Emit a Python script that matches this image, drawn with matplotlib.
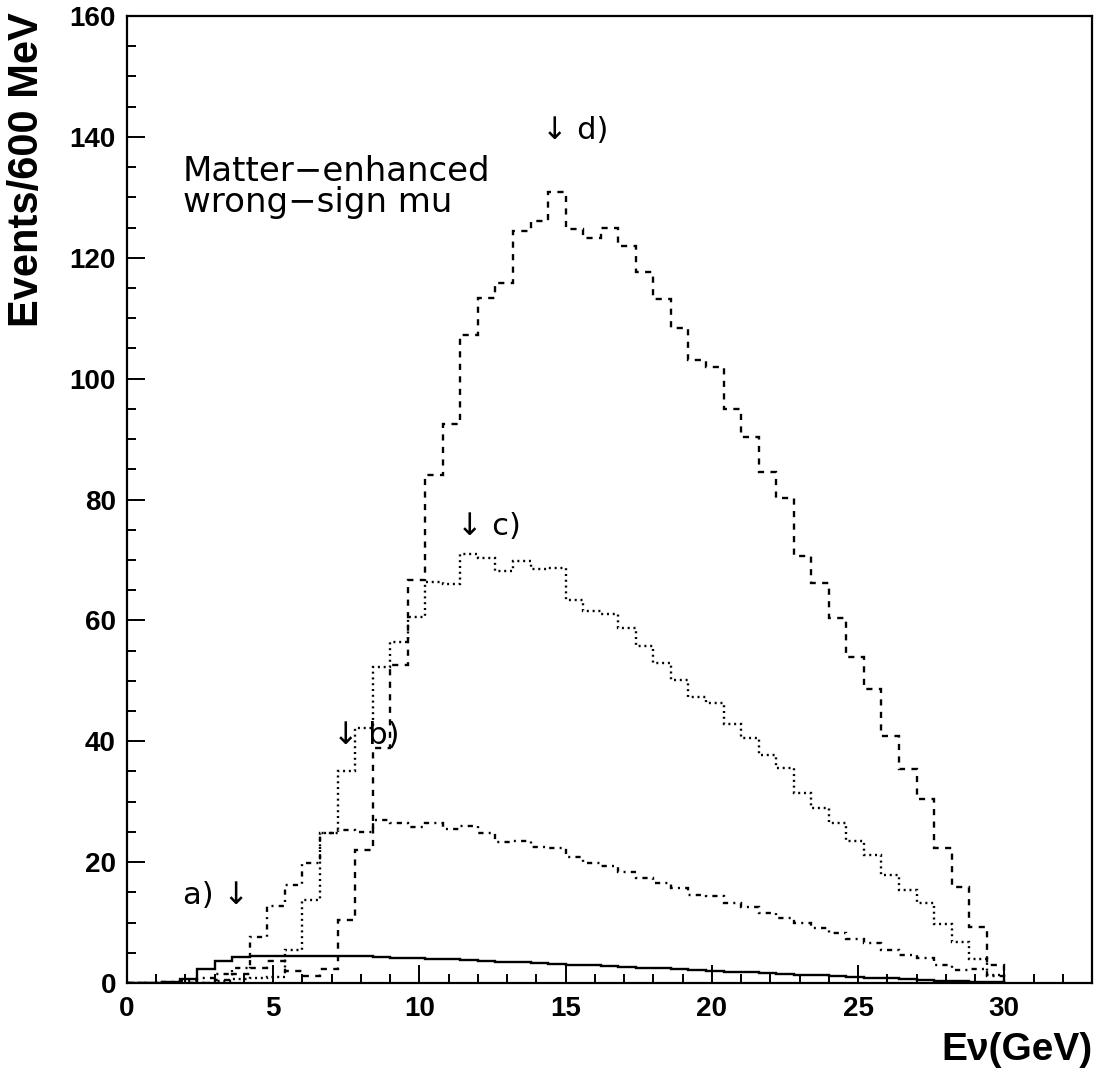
import numpy as np
import matplotlib
matplotlib.use('Agg')
import matplotlib.pyplot as plt
from matplotlib.ticker import MultipleLocator

# bin edges: 50 bins of 600 MeV from 0 to 30 GeV
bin_width = 0.6
n_bins = 50

# a) solid
hist_a = [0, 0, 0.2, 0.6, 2.3, 3.6, 4.3, 4.4, 4.4, 4.5,
          4.5, 4.5, 4.4, 4.4, 4.3, 4.2, 4.1, 4.0, 3.9, 3.75,
          3.6, 3.5, 3.4, 3.25, 3.1, 3.0, 2.9, 2.75, 2.6, 2.5,
          2.4, 2.25, 2.1, 1.95, 1.85, 1.75, 1.6, 1.5, 1.35, 1.25,
          1.1, 1.0, 0.85, 0.75, 0.6, 0.5, 0.4, 0.3, 0.2, 0.1]

# b) dash-dot
hist_b = [0, 0, 0.2, 0.4, 0.8, 1.5, 2.5, 7.6, 12.7, 16.2,
          19.8, 24.8, 25.3, 25.0, 27.0, 26.5, 25.8, 26.5, 25.5, 26.0,
          24.8, 23.4, 23.5, 22.5, 22.3, 20.9, 19.8, 19.4, 18.4, 17.4,
          16.5, 15.7, 14.6, 14.4, 13.2, 12.6, 11.6, 10.8, 9.9, 9.1,
          8.3, 7.3, 6.6, 5.5, 4.6, 4.1, 3.0, 2.2, 2.3, 1.2]

# c) dotted
hist_c = [0, 0, 0, 0, 0, 0.3, 0.6, 0.8, 1.0, 5.5,
          13.7, 24.8, 35.0, 42.2, 52.3, 56.5, 60.6, 66.4, 66.0, 70.9,
          70.3, 68.1, 69.9, 68.5, 68.6, 63.4, 61.5, 61.0, 58.8, 55.7,
          53.0, 50.2, 47.4, 46.4, 42.9, 40.6, 37.8, 35.6, 31.4, 29.0,
          26.5, 23.5, 21.2, 17.9, 15.4, 13.2, 9.8, 6.8, 3.9, 1.3]

# d) dashed
hist_d = [0, 0, 0, 0, 0, 0.5, 1.5, 2.5, 3.7, 2.0,
          1.2, 2.3, 10.4, 22.0, 38.9, 52.6, 66.7, 84.1, 92.5, 107.3,
          113.4, 115.9, 124.5, 126.1, 130.8, 124.7, 123.2, 125.0, 121.9, 117.6,
          113.2, 108.4, 103.1, 102.0, 95.0, 90.4, 84.6, 80.3, 70.7, 66.2,
          60.4, 54.0, 48.7, 40.8, 35.4, 30.5, 22.4, 15.9, 9.3, 3.0]

edges = np.arange(n_bins + 1) * bin_width

plt.rcParams['font.family'] = ['Liberation Sans', 'DejaVu Sans']

fig = plt.figure(figsize=(11.02, 10.72), dpi=100)
ax = fig.add_axes([127 / 1102, 1 - 983 / 1072, (1092 - 127) / 1102, (983 - 16) / 1072])

lw = 1.7
ax.stairs(hist_a, edges, baseline=0, color='black', lw=lw, linestyle='-')
ax.stairs(hist_b, edges, baseline=0, color='black', lw=lw,
          linestyle=(0, (2.2, 2.2, 0.85, 2.2)))
ax.stairs(hist_c, edges, baseline=0, color='black', lw=lw,
          linestyle=(0, (0.85, 1.6)))
ax.stairs(hist_d, edges, baseline=0, color='black', lw=lw,
          linestyle=(0, (2.6, 2.7)))

ax.set_xlim(0, 33)
ax.set_ylim(0, 160)

ax.xaxis.set_major_locator(MultipleLocator(5))
ax.xaxis.set_minor_locator(MultipleLocator(1))
ax.yaxis.set_major_locator(MultipleLocator(20))
ax.yaxis.set_minor_locator(MultipleLocator(5))

ax.tick_params(which='both', direction='in', top=False, right=False, width=1.4)
ax.tick_params(which='major', length=13, labelsize=20)
ax.tick_params(which='minor', length=6.5)
ax.tick_params(axis='x', pad=9)
ax.tick_params(axis='y', pad=8)
for lab in ax.get_xticklabels() + ax.get_yticklabels():
    lab.set_fontweight('bold')

for sp in ax.spines.values():
    sp.set_linewidth(1.6)

# axis titles (ROOT style: placed at the ends of the axes)
fig.text(27 / 1102, 1 - 12 / 1072, 'Events/600 MeV', rotation=90,
         ha='center', va='top', fontsize=30, fontweight='bold')
fig.text(1092 / 1102, 1 - 1068 / 1072, 'E\u03bd(GeV)',
         ha='right', va='bottom', fontsize=28, fontweight='bold')

# annotations
note_font = dict(family='DejaVu Sans', color='black')
ax.text(1.9, 137.0, 'Matter\u2212enhanced\nwrong\u2212sign mu', ha='left', va='top',
        linespacing=0.92, fontsize=24.5, **note_font)
ax.text(14.2, 141.0, '\u2193 d)', ha='left', va='center', fontsize=22, **note_font)
ax.text(11.3, 75.5, '\u2193 c)', ha='left', va='center', fontsize=22, **note_font)
ax.text(7.05, 41.0, '\u2193 b)', ha='left', va='center', fontsize=22, **note_font)
ax.text(1.9, 14.5, 'a) \u2193', ha='left', va='center', fontsize=22, **note_font)

fig.savefig('out.png', dpi=100)
